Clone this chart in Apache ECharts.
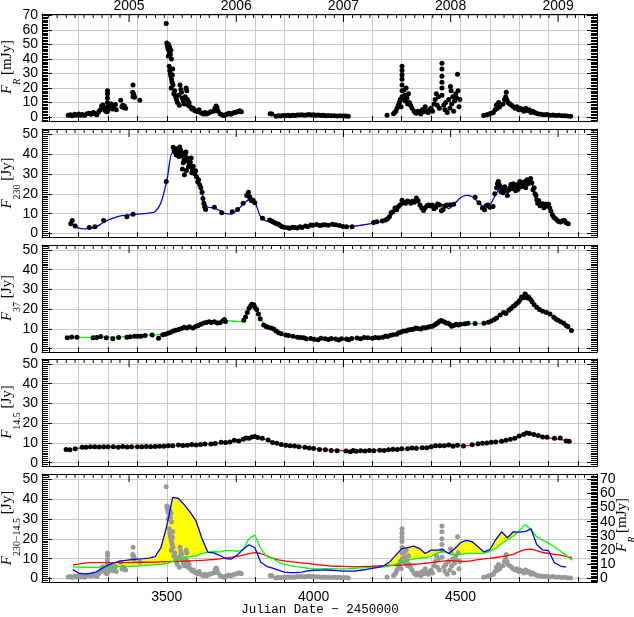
<!DOCTYPE html>
<html>
<head>
<meta charset="utf-8">
<script src="https://cdn.jsdelivr.net/npm/echarts@6/dist/echarts.min.js"></script>
<style>
  html, body { margin: 0; padding: 0; background: #fff; }
  #chart { width: 634px; height: 617px; }
</style>
</head>
<body>
<div id="chart"></div>
<script>
// x values are Julian Date - 2450000
const X_MIN = 3075, X_MAX = 4965;
const YEAR_LABELS = [2005, 2006, 2007, 2008, 2009];

// optical R band [mJy]
const fluxR = [
  [3164,1.2],[3172,1.5],[3178,0.8],[3186,1.8],[3192,1.2],[3200,2.0],[3206,1.1],[3212,1.6],[3220,1.0],[3228,2.2],
  [3236,2.5],[3242,1.8],[3250,3.0],[3256,2.2],[3262,1.5],[3268,3.5],[3274,5.0],[3278,7.5],[3282,8.3],[3286,6.0],
  [3290,4.5],[3295,3.5],[3298,4],[3298,7],[3298,10],[3298,13],[3298,16],[3298,18],[3300,5.0],[3303,7.5],
  [3306,6],[3310,9],[3315,5.5],[3320,7],[3325,8.5],[3328,5],[3343,11.5],[3347,7],[3350,8],[3353,6.5],
  [3356,7.5],[3360,6],[3384,17],[3385,22],[3386,16],[3388,15],[3385,14],[3390,13.5],[3408,11.5],
  [3498,64.5],[3500,51],[3502,49],[3504,47],[3506,50],[3508,45],[3510,48],[3512,43],[3514,46],[3516,40],[3505,42],
  [3508,35],[3510,32],[3512,30],[3514,28],[3516,26],[3518,24],[3520,33],[3521,22],[3515,20],[3519,29],
  [3524,16],[3527,18],[3530,14],[3533,12],[3536,10],[3540,15],[3543,8],
  [3545,22],[3548,19],[3550,17],[3553,13],[3556,11],[3560,9],[3563,14],[3566,20],[3568,18],[3570,12],[3573,8],[3576,10],
  [3580,7],[3585,5.5],[3590,6],[3595,4.5],[3600,4],[3605,3.5],[3610,5],[3615,3],
  [3620,2.5],[3625,2],[3630,3],[3635,2],[3640,2.5],[3645,3],[3650,3.5],
  [3660,4],[3664,6],[3668,7.5],[3671,6.5],[3675,4],
  [3682,2],[3688,1.5],[3694,1],[3700,1.5],[3706,2],[3712,2.5],[3718,1.8],
  [3724,2.5],[3730,3],[3736,3.2],[3742,3.8],[3748,4.2],[3754,3.5],
  [3852,2.2],[3858,2],
  [3872,0.5],[3880,0.8],[3888,0.6],[3896,1],[3904,0.8],[3912,1.1],[3920,0.9],[3928,1.2],[3936,1],[3944,1.4],
  [3952,1.3],[3960,1.5],[3968,1.2],[3976,1.4],[3984,1.6],[3992,1.3],[4000,1.5],[4008,1.2],
  [4016,1.3],[4024,1.0],[4032,1.2],[4040,0.9],[4050,1.0],[4060,0.8],[4070,0.9],[4080,0.7],[4090,0.8],[4100,0.6],[4110,0.7],[4118,0.5],
  [4250,1.2],[4272,2.2],[4276,3],
  [4280,4],[4284,6],[4288,8],[4292,10],[4295,12],[4298,7],
  [4301,35],[4301,32],[4301,29],[4301,26],[4301,22],[4301,18],[4301,14],
  [4305,12],[4308,18.5],[4310,15],[4312,11],[4315,20],[4318,13],[4320,9],[4323,16],[4326,10],[4330,8],[4335,6],
  [4342,4],[4346,3],[4350,2.5],[4355,4],[4360,3.5],[4365,2],[4370,5],[4375,3.5],[4380,7],[4385,4],[4390,3],[4395,5],[4400,6],[4405,4],
  [4410,9],[4414,12],[4418,16],[4421,8],[4425,14],[4428,6],
  [4437,37],[4437,33],[4437,28],[4437,24],[4437,20],[4437,15],
  [4443,8],[4447,5],[4450,10],[4455,3],[4460,12],[4464,6],[4466,21],[4468,18],[4470,9],[4474,14],[4477,4],
  [4480,11],[4484,16],[4487,13],[4490,29.5],[4492,18],[4495,7],[4498,12],
  [4579,1],[4590,1.5],[4598,2],[4605,2.5],[4612,3],
  [4618,5],[4622,8],[4626,6],[4630,10],[4634,7],
  [4645,9],[4650,12],[4654,14],[4656,17],[4658,12],
  [4662,10],[4668,9],[4674,8],[4680,7],[4686,6],[4692,7],[4698,5],[4704,6],
  [4710,5],[4716,4],[4722,6],[4728,4.5],[4734,5],[4740,3],[4746,4],[4752,3],[4758,2.5],
  [4766,2],[4775,1.8],[4785,1.5],[4795,1.6],[4805,1.2],[4815,1.4],[4825,1.0],[4835,1.1],[4845,0.8],[4855,0.9],[4865,0.6],[4875,0.5]
];

// 230 GHz [Jy]
const flux230 = [
  [3173,5.0],[3178,6.6],[3188,3.8],[3236,3.1],[3255,3.4],[3285,6.6],[3364,8.5],[3385,9.7],[3498,26.2],
  [3522,43.4],[3525,41.5],[3528,41.0],[3532,39.5],[3535,42.6],[3538,40.5],[3541,38.7],[3544,43.5],[3547,41.8],[3550,39.0],
  [3553,40.3],[3556,35.5],[3559,37.1],[3562,39.5],[3565,41.0],[3567,31.7],[3569,38.0],[3571,36.4],[3574,33.5],[3577,34.8],
  [3580,36.0],[3583,37.9],[3585,30.5],[3587,32.4],[3590,33.8],[3553,32.4],[3560,29.5],[3595,30.1],[3598,31.5],[3601,28.5],
  [3605,26.0],[3608,27.0],[3612,24.5],[3616,23.0],[3620,20.7],[3623,17.6],[3626,15.2],[3629,13.5],[3632,12.1],
  [3662,13.2],[3687,10.5],[3723,11.0],[3741,12.1],[3760,15.2],[3772,19.1],[3778,20.7],[3782,18.5],[3784,17.6],[3788,16.5],
  [3794,16.8],[3800,15.5],
  [3826,7.7],[3850,6.8],[3857,6.3],[3862,5.8],[3869,5.3],[3875,5.0],[3881,4.7],[3887,4.0],[3893,3.4],[3900,3.2],
  [3912,2.9],[3918,2.7],[3928,3.2],[3936,3.1],[3944,2.8],[3954,3.4],[3960,3.1],[3972,3.8],[3980,3.5],[3990,4.3],
  [3997,4.2],[4010,4.6],[4021,4.1],[4030,4.3],[4039,4.5],[4050,4.2],[4064,4.7],[4075,4.4],[4088,4.1],[4100,3.6],
  [4112,3.4],[4131,3.4],
  [4204,5.6],[4215,5.9],[4234,6.3],[4245,6.8],[4252,7.4],[4258,8.5],[4264,10.5],[4270,11.0],[4277,12.9],[4283,12.0],
  [4289,13.6],[4295,14.5],[4301,16.8],[4307,15.5],[4313,15.2],[4319,16.4],[4325,16.0],[4331,15.2],[4337,16.3],[4343,15.8],
  [4350,17.9],[4356,16.5],[4362,14.4],[4368,13.0],[4374,11.6],[4380,13.0],[4386,14.0],[4392,14.4],[4398,13.8],[4404,14.4],
  [4410,12.5],[4416,13.2],[4422,14.8],[4429,14.4],[4435,11.5],[4441,12.1],[4447,13.8],[4453,14.4],[4465,14.5],[4477,14.7],
  [4550,18.3],[4563,15.5],[4575,12.9],[4582,12.0],[4587,14.0],[4593,14.4],[4600,13.2],[4611,13.6],
  [4617,20.0],[4623,23.0],[4626,25.0],[4629,26.2],[4632,24.5],[4635,23.8],[4638,21.0],[4642,22.5],[4645,20.5],[4648,21.5],
  [4651,23.5],[4655,22.0],[4660,19.1],[4664,21.8],[4668,23.0],[4672,24.6],[4676,22.5],[4680,25.0],[4684,23.8],[4688,21.5],
  [4692,24.5],[4696,22.3],[4700,24.0],[4702,26.2],[4706,23.5],[4710,25.5],[4714,24.6],[4718,26.0],[4722,23.0],[4727,27.0],
  [4731,25.0],[4735,26.5],[4739,27.7],[4743,25.5],[4747,22.0],[4751,23.0],[4754,20.0],[4757,19.1],[4760,17.0],[4763,15.2],
  [4767,16.5],[4771,14.0],[4775,14.4],[4780,15.0],[4784,13.0],[4788,13.6],[4792,14.8],[4796,14.0],[4800,14.7],[4804,13.0],
  [4808,11.3],[4813,9.5],[4818,8.2],[4824,7.5],[4830,6.6],[4836,6.0],[4842,5.8],[4848,6.5],[4854,6.6],[4860,5.5],[4867,5.0]
];

// 37 GHz [Jy]
const flux37 = [
  [3161,5.5],[3176,5.9],[3194,5.8],[3249,5.5],[3261,5.6],[3275,6.1],[3294,5.5],[3316,5.0],[3336,5.6],[3364,5.8],
  [3375,6.0],[3390,6.3],[3401,6.25],[3412,6.3],[3426,6.7],[3450,6.9],[3472,5.3],[3486,7.0],[3495,7.3],[3504,7.8],
  [3512,8.2],[3522,8.9],[3530,9.3],[3540,9.7],[3550,10.2],[3559,10.8],[3568,10.4],[3577,11.1],[3589,10.5],[3598,11.2],
  [3607,11.7],[3616,12.3],[3626,13.0],[3635,13.2],[3644,13.6],[3652,13.2],[3662,13.6],[3672,13.0],[3681,13.1],[3690,14.0],
  [3696,14.8],[3700,13.8],[3762,14.4],[3768,16],[3774,18.3],[3780,20.5],[3786,21.7],[3790,22.5],[3796,22.2],[3800,21.0],
  [3806,19.8],[3812,17.5],[3818,15.2],[3830,12.0],[3838,11.2],[3845,10.8],[3855,10.5],[3864,10.0],[3872,9.0],[3881,8.1],
  [3890,7.6],[3905,6.9],[3915,6.6],[3930,6.25],[3945,5.8],[3955,5.6],[3966,5.5],[3975,5.0],[3990,5.2],[4002,4.8],
  [4015,4.5],[4025,5.3],[4039,5.0],[4050,4.6],[4060,5.1],[4075,4.9],[4085,4.4],[4095,5.0],[4112,4.9],[4120,4.5],
  [4130,5.2],[4148,5.4],[4160,5.0],[4172,5.6],[4185,5.5],[4200,5.3],[4210,5.6],[4222,5.5],[4235,5.8],[4245,6.4],
  [4252,6.1],[4262,6.8],[4270,7.0],[4283,7.3],[4290,8.0],[4298,8.4],[4307,8.9],[4315,9.0],[4322,9.5],[4331,9.7],
  [4340,9.8],[4348,10.4],[4355,10.2],[4365,10.0],[4372,10.6],[4380,10.5],[4388,10.8],[4396,11.2],[4404,11.3],[4412,12.0],
  [4418,12.6],[4422,13.0],[4428,13.8],[4434,14.2],[4440,13.9],[4447,13.4],[4453,12.8],[4459,12.8],[4465,12.2],[4470,11.4],
  [4477,11.7],[4485,12.3],[4492,12.0],[4501,12.3],[4515,12.6],[4526,12.8],[4550,12.7],[4580,12.8],[4595,13.4],[4605,14.0],
  [4615,14.8],[4623,15.5],[4635,17.0],[4647,18.3],[4655,17.8],[4665,19.5],[4672,20.3],[4680,21.5],[4686,22.0],[4690,22.7],
  [4697,23.5],[4702,24.5],[4708,26.1],[4714,25.8],[4720,27.7],[4724,26.8],[4728,25.6],[4732,26.1],[4738,25.0],[4744,23.8],
  [4751,22.2],[4760,21.0],[4769,19.8],[4780,19.0],[4793,18.3],[4805,17.5],[4818,15.9],[4825,15.0],[4832,14.4],[4842,13.6],
  [4852,12.8],[4860,11.7],[4866,11.2],[4878,9.2]
];

// 14.5 GHz [Jy]
const flux145 = [
  [3157,6.7],[3170,6.5],[3188,7.0],[3212,7.8],[3225,7.8],[3240,8.0],[3255,8.0],[3270,7.9],[3285,8.0],[3300,8.0],
  [3318,8.1],[3335,7.8],[3350,8.2],[3365,7.9],[3380,8.0],[3400,8.1],[3415,8.0],[3430,8.2],[3445,8.1],[3460,8.2],
  [3475,8.3],[3490,8.3],[3505,8.6],[3520,8.5],[3540,8.9],[3555,8.7],[3570,8.8],[3585,9.2],[3600,9.0],[3615,9.2],
  [3630,9.5],[3650,9.4],[3665,9.7],[3685,10.3],[3700,10.2],[3715,10.4],[3730,11.3],[3745,11.0],[3760,11.8],[3770,12.5],
  [3780,12.3],[3790,13.0],[3800,13.2],[3810,12.7],[3825,12.4],[3845,11.5],[3860,10.2],[3875,9.8],[3890,9.2],[3905,8.8],
  [3920,8.6],[3935,8.4],[3950,8.0],[3970,7.8],[3985,7.4],[4000,7.2],[4020,6.6],[4040,6.5],[4060,6.2],[4080,6.0],
  [4110,5.9],[4125,5.5],[4135,6.1],[4145,5.8],[4160,6.0],[4175,5.9],[4190,6.1],[4205,6.0],[4225,6.3],[4240,6.2],
  [4255,6.5],[4270,6.8],[4285,6.6],[4300,7.0],[4320,7.0],[4335,7.4],[4350,7.3],[4370,7.6],[4385,7.5],[4400,8.0],
  [4415,8.5],[4430,8.6],[4445,8.5],[4460,8.9],[4475,8.3],[4490,8.8],[4510,8.4],[4540,9.1],[4560,9.6],[4575,9.8],
  [4590,10.0],[4605,10.3],[4620,10.5],[4640,10.9],[4655,11.3],[4670,11.8],[4685,12.4],[4700,13.5],[4715,14.3],[4725,15.0],
  [4735,14.8],[4750,14.2],[4765,13.8],[4780,13.0],[4795,12.8],[4820,12.3],[4840,12.5],[4860,11.0],[4870,10.8]
];

// smoothed light curves, sampled on one common grid
const curveX = [
  3180,3200,3220,3240,3260,3280,3300,3320,3340,3360,
  3380,3400,3420,3440,3460,3480,3500,3520,3540,3560,
  3580,3600,3620,3640,3660,3680,3700,3720,3740,3760,
  3780,3800,3820,3840,3860,3880,3900,3920,3940,3960,
  3980,4000,4020,4040,4060,4080,4100,4120,4140,4160,
  4180,4200,4220,4240,4260,4280,4300,4320,4340,4360,
  4380,4400,4420,4440,4460,4480,4500,4520,4540,4560,
  4580,4600,4620,4640,4660,4680,4700,4720,4740,4760,
  4780,4800,4820,4840,4860,4880
];
const curve230 = [
  4.5,2.7,2.4,2.6,3.4,5.2,6.8,7.9,8.8,9.2,
  9.5,9.8,10.0,10.3,11.0,15.5,26.5,40.8,40.2,37.0,
  33.2,28.8,20.0,13.2,12.9,11.7,10.0,9.8,11.8,14.7,
  17.0,15.5,8.2,6.2,5.3,4.3,3.3,3.0,3.0,3.3,
  3.9,4.2,4.3,4.4,4.2,4.0,3.8,3.8,3.8,4.2,
  4.6,5.1,5.7,6.5,8.5,11.8,15.0,15.5,16.3,15.2,
  12.6,14.3,14.3,14.5,12.6,15.0,18.0,19.2,18.5,16.0,
  13.4,14.5,19.5,23.5,20.5,23.5,23.3,23.6,25.0,17.0,
  14.4,14.0,8.0,6.3,5.8,null
];
const curve37 = [
  5.9,5.8,5.7,5.6,5.6,5.8,5.9,6.0,6.0,6.1,
  6.2,6.3,6.6,6.8,7.0,7.2,7.6,8.7,9.7,10.6,
  11.0,11.4,12.6,13.4,13.6,13.3,14.2,14.0,13.7,14.4,
  20.0,21.8,15.0,11.2,10.2,8.3,7.1,6.5,6.0,5.6,
  5.2,4.9,4.9,5.0,5.0,4.9,4.9,5.0,5.2,5.4,
  5.5,5.5,5.6,5.9,6.4,7.2,8.3,9.3,9.9,10.3,
  10.5,11.2,12.8,13.6,12.8,11.8,12.2,12.7,12.7,12.7,
  12.8,13.7,15.2,17.5,19.5,21.3,24.0,27.2,24.5,21.0,
  19.3,17.8,15.9,13.8,11.8,9.2
];
const curve145 = [
  6.9,7.3,7.8,8.0,8.0,8.0,8.0,8.0,8.0,8.0,
  8.0,8.1,8.2,8.2,8.3,8.4,8.5,8.6,8.7,8.8,
  8.9,9.0,9.2,9.4,9.6,9.9,10.3,10.8,11.2,11.8,
  12.5,13.0,12.6,11.5,10.3,9.4,8.9,8.5,8.2,7.9,
  7.6,7.2,6.9,6.6,6.3,6.2,6.1,6.0,5.9,6.0,
  6.1,6.2,6.4,6.5,6.6,6.7,6.8,7.0,7.2,7.4,
  7.7,8.0,8.4,8.8,9.0,8.9,8.7,8.6,9.0,9.5,
  9.9,10.2,10.6,11.0,11.5,12.2,13.5,14.5,14.8,14.0,
  13.1,12.6,12.2,11.8,11.2,10.5
];

const panels = [
  {top: 14, height: 107, yMin: -2.8, yMax: 71, split: 7},
  {top: 129, height: 108, yMin: -1.7, yMax: 52.5, split: 5},
  {top: 245, height: 107, yMin: -1.7, yMax: 52.5, split: 5},
  {top: 359, height: 107, yMin: -1.7, yMax: 52.5, split: 5},
  {top: 474, height: 108, yMin: -1.7, yMax: 52.5, split: 5}
];
// right axis of the last panel (R band in mJy, 0..70 against 0..50 Jy)
const rightMin = -2.38, rightMax = 73.5;

const LABEL = {color: '#000', fontFamily: 'Liberation Sans', fontSize: 14};
const GRID_GRAY = '#c8c8c8';

function jd(y, m, d) {
  return Date.UTC(y, m, d) / 86400000 + 2440587.5 - 2450000;
}
const monthTicks = [];
for (let y = 2004; y <= 2009; y++) {
  for (let m = 1; m < 12; m++) {
    const t = jd(y, m, 1);
    if (t > X_MIN && t < X_MAX) monthTicks.push(t);
  }
}
const yearTicks = YEAR_LABELS.map(y => jd(y, 0, 1));

const tenths = v => (Math.abs(v - Math.round(v / 10) * 10) < 1e-6 ? String(Math.round(v)) : '');

const grid = [], xAxis = [], yAxis = [], series = [];

panels.forEach((p, i) => {
  grid.push({left: 42, width: 555, top: p.top, height: p.height, show: false});
  xAxis.push({
    type: 'value', gridIndex: i, position: 'bottom', min: X_MIN, max: X_MAX, splitNumber: 19,
    axisLine: {show: true, onZero: false, lineStyle: {color: '#000', width: 1}},
    axisTick: {show: true, inside: true, length: 5, lineStyle: {color: '#000'}},
    axisLabel: {show: i === 4, ...LABEL, margin: 8, formatter: v => (v % 500 === 0 ? String(v) : '')},
    splitLine: {show: true, lineStyle: {color: GRID_GRAY, width: 1}}
  });
  xAxis.push({
    type: 'value', gridIndex: i, position: 'top', min: X_MIN, max: X_MAX,
    axisLine: {show: true, onZero: false, lineStyle: {color: '#000', width: 1}},
    axisTick: {show: false}, axisLabel: {show: false}, splitLine: {show: false}
  });
  yAxis.push({
    type: 'value', gridIndex: i, position: 'left', min: p.yMin, max: p.yMax, splitNumber: p.split,
    axisLine: {show: true, onZero: false, lineStyle: {color: '#000', width: 1}},
    axisTick: {show: true, inside: true, length: 10, lineStyle: {color: '#000'}},
    minorTick: {show: true, splitNumber: 10, length: 6, lineStyle: {color: '#000'}},
    axisLabel: {...LABEL, margin: 4, formatter: tenths},
    splitLine: {show: true, lineStyle: {color: GRID_GRAY, width: 1}}
  });
  const last = i === 4;
  yAxis.push({
    type: 'value', gridIndex: i, position: 'right',
    min: last ? rightMin : p.yMin, max: last ? rightMax : p.yMax, splitNumber: last ? 7 : p.split,
    axisLine: {show: true, onZero: false, lineStyle: {color: '#000', width: 1}},
    axisTick: {show: true, inside: true, length: 10, lineStyle: {color: '#000'}},
    minorTick: {show: true, splitNumber: 10, length: 6, lineStyle: {color: '#000'}},
    axisLabel: {show: last, ...LABEL, margin: 3, formatter: tenths},
    splitLine: {show: false}
  });
  // month and year ticks hanging from the top edge
  series.push({
    type: 'scatter', xAxisIndex: 2 * i, yAxisIndex: 2 * i, silent: true, clip: false, z: 5,
    data: monthTicks.map(t => [t, p.yMax]),
    symbol: 'rect', symbolSize: [1, 4], symbolOffset: [0, 2], itemStyle: {color: '#000', opacity: 1}
  });
  series.push({
    type: 'scatter', xAxisIndex: 2 * i, yAxisIndex: 2 * i, silent: true, clip: false, z: 5,
    data: yearTicks.map(t => [t, p.yMax]),
    symbol: 'rect', symbolSize: [1, 8], symbolOffset: [0, 4], itemStyle: {color: '#000', opacity: 1},
    label: {
      show: i === 0, position: 'top', distance: 1, ...LABEL,
      formatter: q => String(YEAR_LABELS[q.dataIndex])
    }
  });
});

const dots = (data, xi, yi, color, z) => ({
  type: 'scatter', xAxisIndex: xi, yAxisIndex: yi, data, symbol: 'circle', symbolSize: 5,
  itemStyle: {color, opacity: 1}, silent: true, z
});
const curve = (vals, xi, yi, color, z, smooth) => ({
  type: 'line', xAxisIndex: xi, yAxisIndex: yi, data: curveX.map((x, k) => [x, vals[k]]),
  symbol: 'none', smooth, lineStyle: {color, width: 1.3}, silent: true, z
});

series.push(dots(fluxR, 0, 0, '#000', 3));
series.push(curve(curve230, 2, 2, '#0000ff', 2, 0.3));
series.push(dots(flux230, 2, 2, '#000', 3));
series.push(curve(curve37, 4, 4, '#00ff00', 2, 0.3));
series.push(dots(flux37, 4, 4, '#000', 3));
series.push(curve(curve145, 6, 6, '#ff0000', 2, 0.3));
series.push(dots(flux145, 6, 6, '#000', 3));

// bottom panel: yellow where the 230 GHz curve lies above the 37 GHz curve
const fillSegments = [];
for (let k = 0; k + 1 < curveX.length; k++) {
  if (curve230[k] == null || curve230[k + 1] == null) continue;
  fillSegments.push([curveX[k], curveX[k + 1], curve37[k], curve37[k + 1], curve230[k], curve230[k + 1]]);
}
series.push({
  type: 'custom', xAxisIndex: 8, yAxisIndex: 8, silent: true, z: 1,
  data: fillSegments,
  encode: {x: [0, 1], y: [2, 3, 4, 5]},
  renderItem: (params, api) => {
    const x0 = api.value(0), x1 = api.value(1);
    const g0 = api.value(2), g1 = api.value(3), b0 = api.value(4), b1 = api.value(5);
    const d0 = b0 - g0, d1 = b1 - g1;
    if (d0 <= 0 && d1 <= 0) return null;
    let pts;
    if (d0 >= 0 && d1 >= 0) {
      pts = [[x0, g0], [x1, g1], [x1, b1], [x0, b0]];
    } else {
      const f = d0 / (d0 - d1);
      const xc = x0 + (x1 - x0) * f, yc = g0 + (g1 - g0) * f;
      pts = d0 > 0 ? [[x0, g0], [xc, yc], [x0, b0]] : [[xc, yc], [x1, g1], [x1, b1]];
    }
    return {
      type: 'polygon', shape: {points: pts.map(q => api.coord(q))},
      style: {fill: '#ffff00', stroke: '#ffff00', lineWidth: 0.6}
    };
  }
});
series.push(dots(fluxR, 8, 9, '#999999', 2));
series.push(curve(curve145, 8, 8, '#ff0000', 3, false));
series.push(curve(curve37, 8, 8, '#00ff00', 3, false));
series.push(curve(curve230, 8, 8, '#0000ff', 3, false));

const NAME_RICH = {
  i: {fontFamily: 'Liberation Serif', fontStyle: 'italic', fontSize: 15, lineHeight: 15, verticalAlign: 'top'},
  si: {fontFamily: 'Liberation Serif', fontStyle: 'italic', fontSize: 10, lineHeight: 23, verticalAlign: 'bottom'},
  s: {fontFamily: 'Liberation Serif', fontSize: 10, lineHeight: 23, verticalAlign: 'bottom'},
  n: {fontFamily: 'Liberation Serif', fontSize: 15, lineHeight: 15, verticalAlign: 'top'}
};
const nameText = (x, y, text) => ({
  type: 'text', x, y, rotation: Math.PI / 2, silent: true,
  style: {text, rich: NAME_RICH, fill: '#000', align: 'center', verticalAlign: 'middle',
          fontFamily: 'Liberation Serif', fontSize: 15}
});

const chart = echarts.init(document.getElementById('chart'));
chart.setOption({
  animation: false,
  backgroundColor: '#fff',
  grid, xAxis, yAxis, series,
  graphic: [
    nameText(11, 67, '{i|F}{si|R}{n| [mJy]}'),
    nameText(11, 183, '{i|F}{s|230}{n| [Jy]}'),
    nameText(11, 298, '{i|F}{s|37}{n| [Jy]}'),
    nameText(11, 412, '{i|F}{s|14.5}{n| [Jy]}'),
    nameText(11, 528, '{i|F}{s|230\u221214.5}{n| [Jy]}'),
    nameText(626, 525, '{i|F}{si|R}{n| [mJy]}'),
    {
      type: 'text', x: 320, y: 610, silent: true,
      style: {text: 'Julian Date \u2212 2450000', fill: '#000', align: 'center', verticalAlign: 'middle',
              fontFamily: 'Liberation Mono', fontSize: 12.5}
    }
  ]
});
</script>
</body>
</html>
